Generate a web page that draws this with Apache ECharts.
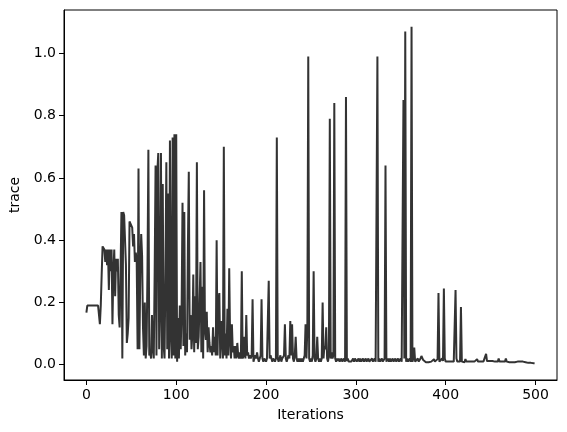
<!DOCTYPE html>
<html>
<head>
<meta charset="utf-8">
<script src="https://cdn.jsdelivr.net/npm/echarts@6/dist/echarts.min.js"></script>
<style>html,body{margin:0;padding:0;background:#fff}#c{width:567px;height:432px}</style>
</head>
<body>
<div id="c"></div>
<script>
// trace values, one per iteration (0..499), rows of 10
const traceValues = [
  0.167,0.19,0.19,0.19,0.19,0.19,0.19,0.19,0.19,0.19,
  0.19,0.19,0.19,0.19,0.19,0.13,0.19,0.29,0.38,0.38,
  0.37,0.33,0.37,0.32,0.37,0.24,0.37,0.30,0.37,0.13,
  0.30,0.37,0.22,0.34,0.30,0.34,0.16,0.12,0.30,0.49,
  0.02,0.49,0.48,0.48,0.32,0.07,0.10,0.15,0.46,0.46,
  0.46,0.44,0.38,0.42,0.33,0.36,0.33,0.05,0.63,0.05,
  0.30,0.42,0.35,0.12,0.03,0.20,0.02,0.06,0.30,0.69,
  0.03,0.04,0.02,0.16,0.05,0.02,0.30,0.64,0.03,0.62,
  0.68,0.05,0.20,0.68,0.02,0.58,0.06,0.02,0.30,0.65,
  0.05,0.55,0.02,0.72,0.10,0.02,0.73,0.03,0.74,0.02,
  0.74,0.01,0.15,0.02,0.19,0.05,0.18,0.52,0.06,0.49,
  0.03,0.10,0.04,0.38,0.62,0.08,0.16,0.05,0.10,0.29,
  0.04,0.22,0.07,0.65,0.05,0.09,0.20,0.33,0.04,0.25,
  0.02,0.56,0.11,0.08,0.17,0.04,0.12,0.07,0.04,0.06,
  0.03,0.12,0.04,0.09,0.03,0.40,0.03,0.21,0.23,0.02,
  0.14,0.08,0.02,0.70,0.03,0.10,0.02,0.18,0.03,0.31,
  0.08,0.02,0.13,0.04,0.06,0.02,0.06,0.02,0.07,0.03,
  0.02,0.04,0.02,0.30,0.02,0.03,0.09,0.02,0.16,0.03,
  0.04,0.02,0.03,0.02,0.03,0.21,0.01,0.02,0.03,0.02,
  0.04,0.02,0.01,0.02,0.03,0.21,0.02,0.01,0.02,0.02,
  0.01,0.02,0.02,0.27,0.02,0.03,0.02,0.01,0.02,0.02,
  0.01,0.02,0.73,0.02,0.01,0.02,0.03,0.01,0.02,0.02,
  0.03,0.13,0.02,0.01,0.02,0.03,0.02,0.14,0.03,0.13,
  0.02,0.01,0.03,0.09,0.02,0.01,0.02,0.01,0.02,0.01,
  0.02,0.01,0.02,0.03,0.13,0.02,0.12,0.99,0.02,0.01,
  0.02,0.01,0.03,0.30,0.02,0.01,0.02,0.09,0.02,0.01,
  0.02,0.01,0.02,0.20,0.02,0.06,0.05,0.12,0.02,0.01,
  0.03,0.79,0.02,0.04,0.02,0.03,0.84,0.02,0.01,0.02,
  0.012,0.02,0.01,0.012,0.02,0.01,0.012,0.02,0.01,0.86,
  0.012,0.02,0.01,0.012,0.015,0.01,0.012,0.02,0.01,0.02,
  0.02,0.01,0.012,0.02,0.01,0.02,0.01,0.012,0.02,0.01,
  0.012,0.02,0.01,0.012,0.02,0.01,0.012,0.01,0.02,0.01,
  0.012,0.02,0.01,0.012,0.99,0.01,0.02,0.01,0.012,0.02,
  0.01,0.012,0.02,0.64,0.01,0.012,0.02,0.01,0.02,0.01,
  0.012,0.02,0.01,0.012,0.02,0.01,0.012,0.02,0.01,0.012,
  0.02,0.01,0.012,0.85,0.02,1.07,0.01,0.02,0.01,0.012,
  0.02,0.01,1.085,0.01,0.02,0.055,0.01,0.012,0.01,0.02,
  0.01,0.012,0.02,0.028,0.026,0.015,0.01,0.012,0.008,0.01,
  0.012,0.008,0.01,0.012,0.01,0.008,0.012,0.018,0.01,0.008,
  0.012,0.018,0.23,0.01,0.012,0.008,0.02,0.012,0.245,0.02,
  0.01,0.012,0.008,0.01,0.012,0.008,0.01,0.012,0.008,0.01,
  0.012,0.24,0.02,0.01,0.008,0.012,0.01,0.185,0.01,0.008,
  0.012,0.008,0.018,0.01,0.008,0.012,0.01,0.008,0.012,0.01,
  0.008,0.012,0.01,0.008,0.012,0.018,0.01,0.008,0.016,0.01,
  0.008,0.012,0.01,0.016,0.01,0.035,0.012,0.008,0.01,0.012,
  0.008,0.01,0.012,0.016,0.008,0.01,0.012,0.008,0.01,0.02,
  0.01,0.008,0.012,0.01,0.008,0.012,0.01,0.02,0.01,0.008,
  0.012,0.008,0.01,0.012,0.008,0.01,0.012,0.008,0.01,0.008,
  0.01,0.015,0.008,0.01,0.012,0.008,0.01,0.008,0.01,0.008,
  0.008,0.01,0.006,0.008,0.01,0.006,0.008,0.006,0.005,0.005
];
const xTickValues = [0, 100, 200, 300, 400, 500];
const yTickValues = [0.0, 0.2, 0.4, 0.6, 0.8, 1.0];

const seriesData = traceValues.map((v, i) => [i, v]);
const font = 'DejaVu Sans';
const chart = echarts.init(document.getElementById('c'), null, {renderer: 'canvas'});
chart.setOption({
  animation: false,
  backgroundColor: '#ffffff',
  grid: {left: 61, right: 10, top: 10, bottom: 52, show: true, borderColor: '#000', borderWidth: 1, backgroundColor: 'transparent'},
  xAxis: {
    type: 'value', min: -24.95, max: 523.95,
    name: 'Iterations', nameLocation: 'middle', nameGap: 28,
    nameTextStyle: {fontFamily: font, fontSize: 14, color: '#000'},
    axisLine: {show: true, onZero: false, lineStyle: {color: '#000', width: 1}},
    axisTick: {show: true, length: 5, customValues: xTickValues, lineStyle: {color: '#000'}},
    axisLabel: {customValues: xTickValues, margin: 8, fontFamily: font, fontSize: 14, color: '#000'},
    splitLine: {show: false}
  },
  yAxis: {
    type: 'value', min: -0.049, max: 1.139,
    name: 'trace', nameLocation: 'middle', nameGap: 42,
    nameTextStyle: {fontFamily: font, fontSize: 14, color: '#000'},
    axisLine: {show: true, onZero: false, lineStyle: {color: '#000', width: 1}},
    axisTick: {show: true, length: 5, customValues: yTickValues, lineStyle: {color: '#000'}},
    axisLabel: {customValues: yTickValues, margin: 8, fontFamily: font, fontSize: 14, color: '#000',
      formatter: v => v.toFixed(1)},
    splitLine: {show: false}
  },
  series: [{
    type: 'line', data: seriesData, showSymbol: false, symbol: 'none',
    lineStyle: {color: '#333333', width: 2}, clip: true
  }]
});
</script>
</body>
</html>
